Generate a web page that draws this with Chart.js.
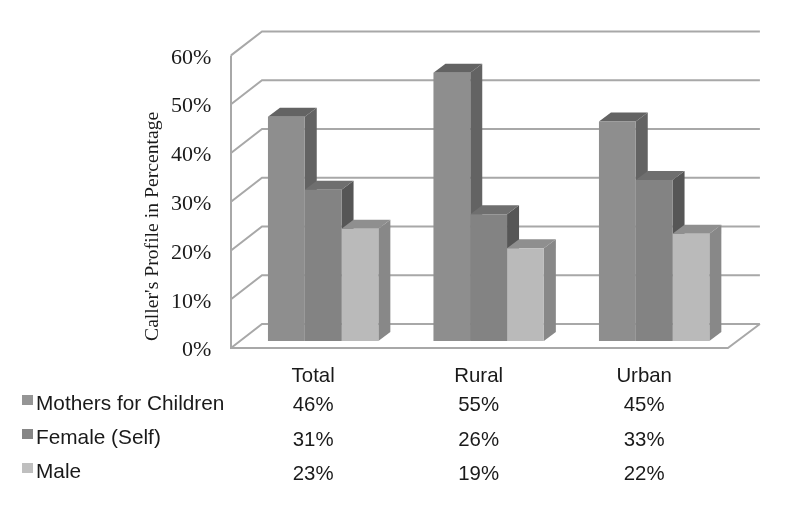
<!DOCTYPE html>
<html>
<head>
<meta charset="utf-8">
<style>html,body{margin:0;padding:0;background:#fff}canvas{display:block}</style>
<script src="https://cdn.jsdelivr.net/npm/chart.js@4"></script>
</head>
<body>
<canvas id="c" width="799" height="523"></canvas>
<script>
const categories = ['Total', 'Rural', 'Urban'];
const seriesNames = ['Mothers for Children', 'Female (Self)', 'Male'];
const mothers = [46, 55, 45];
const female = [31, 26, 33];
const male = [23, 19, 22];
const yTicks = [0, 10, 20, 30, 40, 50, 60];
const yTitle = "Caller's Profile in Percentage";

const frontColors = ['#8e8e8e', '#838383', '#bababa'];
const topColors = ['#636363', '#6f6f6f', '#8f8f8f'];
const sideColors = ['#636363', '#565656', '#888888'];
const swatchColors = ['#959595', '#868686', '#bfbfbf'];
const seriesValues = [mothers, female, male];
const DEPTH_X = 12, DEPTH_Y = 9;
const WALL_FRONT_X = -9.4, WALL_BACK_X = 21.6, WALL_RIGHT = 23, FLOOR_RIGHT = -9;
const WALL_FRONT_DY = 7, WALL_BACK_DY = -17;

function poly(ctx, pts, fill) {
  ctx.beginPath();
  pts.forEach((p, i) => i ? ctx.lineTo(p[0], p[1]) : ctx.moveTo(p[0], p[1]));
  ctx.closePath();
  ctx.fillStyle = fill;
  ctx.fill();
}

const walls3d = {
  id: 'walls3d',
  beforeDatasetsDraw(chart) {
    const { ctx, chartArea: a, scales: { y } } = chart;
    const fx = a.left + WALL_FRONT_X, bx = a.left + WALL_BACK_X;
    const rb = a.right + WALL_RIGHT, rf = a.right + FLOOR_RIGHT;
    const y0 = y.getPixelForValue(0), yMax = y.getPixelForValue(yTicks[yTicks.length - 1]);
    ctx.save();
    ctx.lineWidth = 2;
    ctx.strokeStyle = '#a8a8a8';
    yTicks.forEach(v => {
      const py = y.getPixelForValue(v);
      ctx.beginPath();
      ctx.moveTo(fx, py + WALL_FRONT_DY);
      ctx.lineTo(bx, py + WALL_BACK_DY);
      ctx.lineTo(rb, py + WALL_BACK_DY);
      ctx.stroke();
    });
    ctx.beginPath();
    ctx.moveTo(fx, yMax + WALL_FRONT_DY);
    ctx.lineTo(fx, y0 + WALL_FRONT_DY);
    ctx.lineTo(rf, y0 + WALL_FRONT_DY);
    ctx.lineTo(rb, y0 + WALL_BACK_DY);
    ctx.stroke();

    // side and top faces, left to right; the library's bars are the front faces
    categories.forEach((_, i) => {
      seriesValues.forEach((_, d) => {
        const b = chart.getDatasetMeta(d).data[i];
        const l = b.x - b.width / 2, r = b.x + b.width / 2;
        poly(ctx, [[r, b.y], [r + DEPTH_X, b.y - DEPTH_Y], [r + DEPTH_X, b.base - DEPTH_Y], [r, b.base]], sideColors[d]);
        poly(ctx, [[l, b.y], [l + DEPTH_X, b.y - DEPTH_Y], [r + DEPTH_X, b.y - DEPTH_Y], [r, b.y]], topColors[d]);
      });
    });
    ctx.restore();
  },
  afterDraw(chart) {
    const { ctx, scales: { x } } = chart;
    const rowsSwatch = [395, 429, 463], rowsLabel = [404, 438, 472], rowsValue = [405, 440, 474];
    ctx.save();
    ctx.textBaseline = 'middle';
    seriesNames.forEach((n, d) => {
      ctx.fillStyle = swatchColors[d];
      ctx.fillRect(22, rowsSwatch[d], 11, 10);
      ctx.fillStyle = '#1a1a1a';
      ctx.font = '20.8px "Liberation Sans"';
      ctx.textAlign = 'left';
      ctx.fillText(n, 36, rowsLabel[d]);
      ctx.font = '20.4px "Liberation Sans"';
      ctx.textAlign = 'center';
      categories.forEach((_, i) => {
        ctx.fillText(seriesValues[d][i] + '%', x.getPixelForValue(i) - 10, rowsValue[d]);
      });
    });
    ctx.restore();
  }
};

new Chart(document.getElementById('c'), {
  type: 'bar',
  data: {
    labels: categories,
    datasets: seriesNames.map((n, d) => ({
      label: n,
      data: seriesValues[d],
      backgroundColor: frontColors[d],
      borderWidth: 0,
      barPercentage: 1,
      categoryPercentage: 0.667
    }))
  },
  plugins: [walls3d],
  options: {
    responsive: false,
    animation: false,
    devicePixelRatio: 1,
    layout: { padding: { top: 48.4, right: 62.1, left: 0, bottom: 0 } },
    plugins: { legend: { display: false }, tooltip: { enabled: false } },
    scales: {
      x: {
        grid: { display: false, drawTicks: false },
        border: { display: false },
        ticks: { font: { family: 'Liberation Sans', size: 20.4 }, color: '#1a1a1a', padding: 23, labelOffset: -10, maxRotation: 0 },
        afterFit(s) { s.height = 182; }
      },
      y: {
        min: 0,
        max: 60,
        grid: { display: false, drawTicks: false },
        border: { display: false },
        ticks: {
          stepSize: 10,
          font: { family: 'Liberation Serif', size: 22 },
          color: '#1a1a1a',
          padding: 29,
          labelOffset: 9.5,
          callback: v => v + '%'
        },
        title: {
          display: true,
          text: yTitle,
          align: 'start',
          font: { family: 'Liberation Serif', size: 19.7 },
          color: '#1a1a1a',
          padding: { top: 141, bottom: 0 }
        },
        afterFit(s) { s.width = 240.4; }
      }
    }
  }
});
</script>
</body>
</html>
